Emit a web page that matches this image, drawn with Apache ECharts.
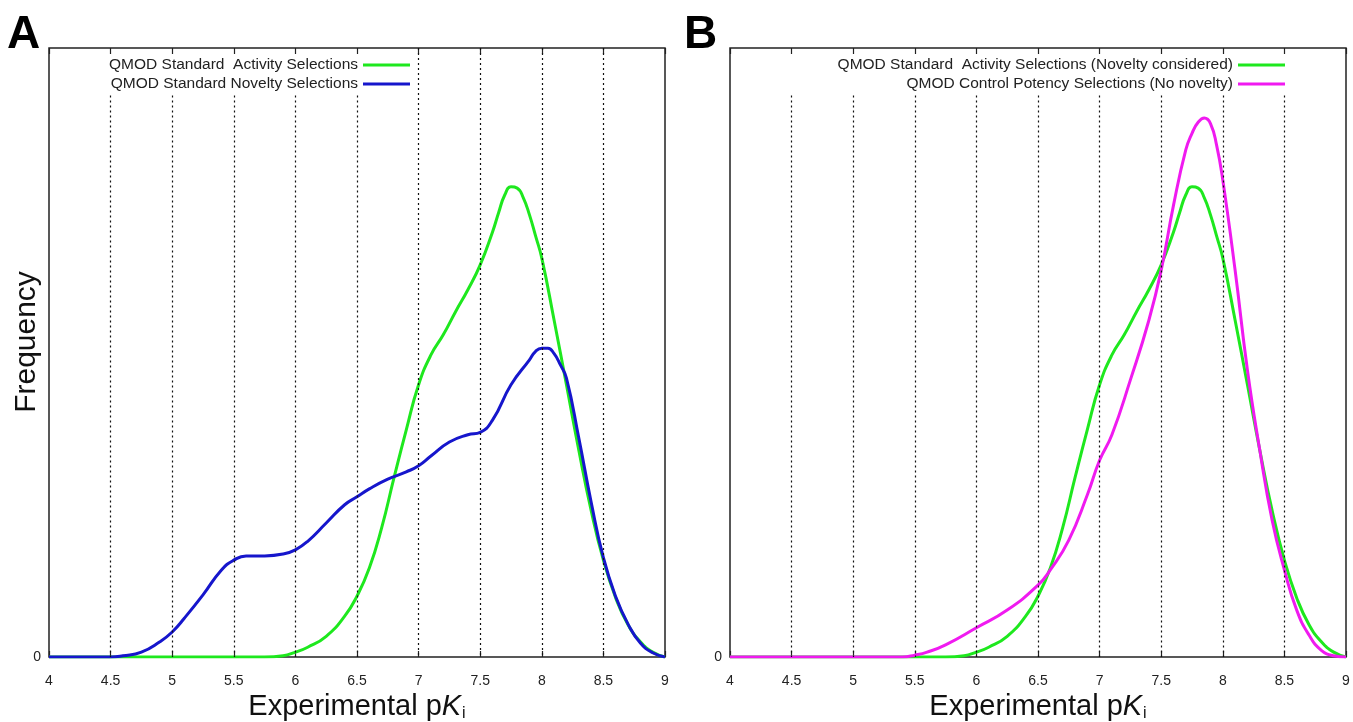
<!DOCTYPE html>
<html>
<head>
<meta charset="utf-8">
<script src="https://cdn.jsdelivr.net/npm/echarts@6/dist/echarts.min.js"></script>
<style>
html,body{margin:0;padding:0;background:#fff;}
#chart{width:1353px;height:722px;}
</style>
</head>
<body>
<div id="chart"></div>
<script>
// ---- Data (frequency in arbitrary units, normalised to plot height) ----
const xTicks = [4, 4.5, 5, 5.5, 6, 6.5, 7, 7.5, 8, 8.5, 9];

const activityX = [4.0, 4.5, 5.0, 5.5, 5.75, 5.9, 6.0, 6.1, 6.25, 6.4, 6.5, 6.6, 6.7, 6.8, 6.9, 7.0, 7.1, 7.2, 7.3, 7.4, 7.5, 7.6, 7.65, 7.7, 7.75, 7.8, 7.85, 7.9, 7.95, 8.0, 8.1, 8.2, 8.3, 8.4, 8.5, 8.6, 8.7, 8.8, 8.9, 9.0];
const activityY = [0, 0, 0, 0, 0, 0.002, 0.008, 0.016, 0.034, 0.067, 0.100, 0.146, 0.212, 0.294, 0.373, 0.447, 0.496, 0.529, 0.567, 0.603, 0.644, 0.698, 0.730, 0.759, 0.772, 0.770, 0.754, 0.726, 0.691, 0.655, 0.553, 0.447, 0.340, 0.241, 0.159, 0.097, 0.053, 0.025, 0.008, 0];

const noveltyX = [4.0, 4.5, 4.6, 4.75, 4.9, 5.0, 5.1, 5.25, 5.4, 5.5, 5.6, 5.75, 5.9, 6.0, 6.1, 6.25, 6.4, 6.5, 6.6, 6.75, 6.9, 7.0, 7.1, 7.25, 7.4, 7.5, 7.6, 7.75, 7.9, 7.95, 8.0, 8.05, 8.1, 8.15, 8.2, 8.3, 8.4, 8.5, 8.6, 8.7, 8.8, 8.9, 9.0];
const noveltyY = [0, 0, 0.002, 0.008, 0.025, 0.041, 0.064, 0.102, 0.143, 0.159, 0.166, 0.166, 0.169, 0.176, 0.190, 0.220, 0.250, 0.263, 0.276, 0.292, 0.304, 0.314, 0.330, 0.353, 0.365, 0.369, 0.389, 0.447, 0.488, 0.502, 0.507, 0.507, 0.498, 0.480, 0.458, 0.360, 0.255, 0.163, 0.099, 0.054, 0.023, 0.007, 0];

const controlX = [4.0, 4.5, 5.0, 5.4, 5.5, 5.6, 5.75, 6.0, 6.25, 6.5, 6.6, 6.75, 6.9, 7.0, 7.1, 7.25, 7.4, 7.5, 7.6, 7.7, 7.75, 7.8, 7.85, 7.9, 7.95, 8.0, 8.1, 8.2, 8.3, 8.4, 8.5, 8.6, 8.7, 8.8, 8.9, 9.0];
const controlY = [0, 0, 0, 0, 0.003, 0.008, 0.020, 0.048, 0.077, 0.118, 0.143, 0.192, 0.266, 0.323, 0.365, 0.455, 0.553, 0.635, 0.742, 0.833, 0.860, 0.878, 0.885, 0.876, 0.840, 0.783, 0.635, 0.471, 0.340, 0.225, 0.143, 0.077, 0.036, 0.011, 0.002, 0];

const nameA1 = 'QMOD Standard  Activity Selections';
const nameA2 = 'QMOD Standard Novelty Selections';
const nameB1 = 'QMOD Standard  Activity Selections (Novelty considered)';
const nameB2 = 'QMOD Control Potency Selections (No novelty)';
const yTitle = 'Frequency';

// ---- Helpers ----
const pairs = (xs, ys) => xs.map((x, i) => [x, ys[i]]);
const FONT = 'Liberation Sans, Arial, sans-serif';
const GREEN = '#1ee81e', BLUE = '#1616cc', MAGENTA = '#f01af0';
const legendClear = 0.922;
const gridVals = xTicks.slice(1, -1);

function gridLines(fullFrom) {
  return gridVals.map(x => {
    const top = (fullFrom !== null && x >= fullFrom) ? 1 : legendClear;
    return [{ coord: [x, top] }, { coord: [x, 0] }];
  });
}

const chart = echarts.init(document.getElementById('chart'), null, { renderer: 'canvas' });

function xAxes(gi) {
  return [
    {
      type: 'value', gridIndex: gi, position: 'bottom', min: 4, max: 9, interval: 0.5,
      axisLine: { show: false },
      axisTick: { show: true, inside: true, length: 6, lineStyle: { color: '#222', width: 1.2 } },
      splitLine: { show: false },
      axisLabel: { show: true, margin: 17, fontSize: 14, color: '#222', fontFamily: FONT },
      name: '{a|Experimental p}{k|K}{s|i}',
      nameLocation: 'middle', nameGap: 30,
      nameTextStyle: {
        rich: {
          a: { fontSize: 29, fontFamily: FONT, color: '#111' },
          k: { fontSize: 29, fontFamily: FONT, fontStyle: 'italic', color: '#111' },
          s: { fontSize: 16, fontFamily: FONT, color: '#111', verticalAlign: 'bottom', padding: [0, 0, 0, 1] }
        }
      }
    },
    {
      type: 'value', gridIndex: gi, position: 'top', min: 4, max: 9, interval: 0.5,
      axisLine: { show: false },
      axisTick: { show: true, inside: true, length: 6, lineStyle: { color: '#222', width: 1.2 } },
      splitLine: { show: false },
      axisLabel: { show: false }
    }
  ];
}

function yAxis(gi) {
  return {
    type: 'value', gridIndex: gi, min: 0, max: 1, interval: 1,
    axisLine: { show: false }, axisTick: { show: false }, splitLine: { show: false },
    axisLabel: { margin: 8, fontSize: 14, color: '#222', fontFamily: FONT, formatter: v => (v === 0 ? '0' : '') }
  };
}

function lineSeries(name, xi, yi, data, color, z) {
  return {
    name, type: 'line', xAxisIndex: xi, yAxisIndex: yi, data,
    smooth: 0.5, showSymbol: false, symbol: 'none', z,
    lineStyle: { color, width: 3 }, itemStyle: { color }
  };
}

function gridSeries(xi, yi, fullFrom) {
  return {
    type: 'line', xAxisIndex: xi, yAxisIndex: yi, data: [], z: 1, silent: true,
    markLine: {
      silent: true, symbol: ['none', 'none'], label: { show: false },
      lineStyle: { type: [2, 3], color: '#111', width: 1.2 },
      emphasis: { disabled: true },
      data: gridLines(fullFrom)
    }
  };
}

const legendCommon = {
  orient: 'vertical', align: 'right', icon: 'rect', itemWidth: 47, itemHeight: 3,
  itemGap: 3, padding: 0, selectedMode: false,
  textStyle: { fontSize: 15.5, fontFamily: FONT, color: '#222' }
};

const gridCommon = {
  top: 48, width: 616, height: 609, show: true, borderColor: '#222', borderWidth: 1.5,
  containLabel: false, outerBoundsMode: 'none'
};

const option = {
  animation: false,
  backgroundColor: '#fff',
  grid: [
    Object.assign({ left: 49 }, gridCommon),
    Object.assign({ left: 730 }, gridCommon)
  ],
  xAxis: [...xAxes(0), ...xAxes(1)],
  yAxis: [yAxis(0), yAxis(1)],
  legend: [
    Object.assign({}, legendCommon, { data: [nameA1, nameA2], right: 943, top: 57 }),
    Object.assign({}, legendCommon, { data: [nameB1, nameB2], right: 68, top: 57 })
  ],
  graphic: [
    { type: 'text', left: 7, top: 12, style: { text: 'A', font: 'bold 46px ' + FONT, fill: '#000' } },
    { type: 'text', left: 684, top: 12, style: { text: 'B', font: 'bold 46px ' + FONT, fill: '#000' } },
    { type: 'text', x: 27, y: 342, rotation: Math.PI / 2,
      style: { text: yTitle, font: '30px ' + FONT, fill: '#111', align: 'center', verticalAlign: 'middle' } }
  ],
  series: [
    gridSeries(0, 0, 7),
    lineSeries(nameA1, 0, 0, pairs(activityX, activityY), GREEN, 3),
    lineSeries(nameA2, 0, 0, pairs(noveltyX, noveltyY), BLUE, 4),
    gridSeries(2, 1, null),
    lineSeries(nameB1, 2, 1, pairs(activityX, activityY), GREEN, 3),
    lineSeries(nameB2, 2, 1, pairs(controlX, controlY), MAGENTA, 4)
  ]
};
chart.setOption(option);
</script>
</body>
</html>
